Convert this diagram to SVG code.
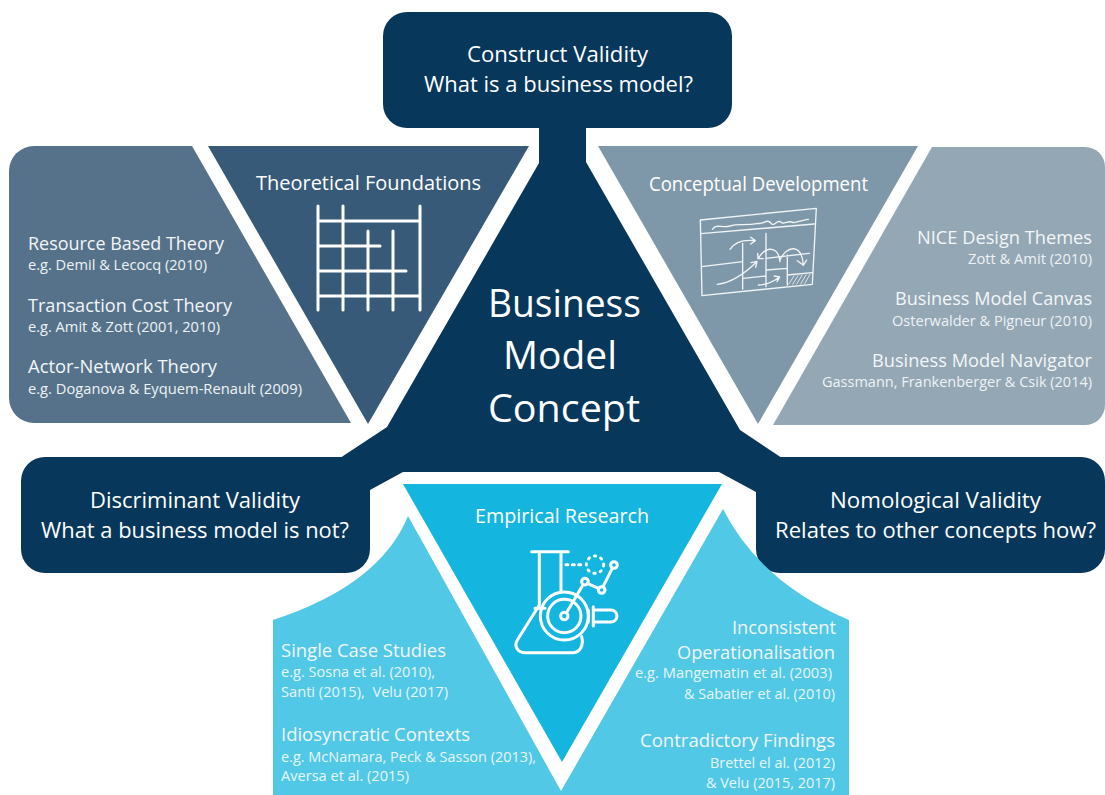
<svg xmlns="http://www.w3.org/2000/svg" width="1105" height="795" viewBox="0 0 1105 795">
<style>
text{font-family:"Open Sans","Noto Sans","Liberation Sans",sans-serif;fill:#fff}
.h{font-size:22.6px}
.t{font-size:19.8px}
.m{font-size:18.6px;fill:#f3f6f8}
.s{font-size:14.4px;fill:#eef2f5}
.l{font-size:14.8px;fill:#e8f6fb}
.c{font-size:38px}
.dk{fill:#07375a}
.ic{fill:none;stroke:#fff;stroke-linecap:round;stroke-linejoin:round}
.sk{fill:none;stroke:#f2f5f7;stroke-width:4;stroke-linecap:round;stroke-linejoin:round}
</style>
<rect width="1105" height="795" fill="#fff"/>
<g id="connectors"/>
<g id="concept">
<polygon class="dk" points="539,120 539,163 387,427 337,460 370,490 403,472 719,472 756,492 785,460 740,430 586,162 586,120"/>
<text class="c" x="488" y="317" textLength="153" lengthAdjust="spacingAndGlyphs">Business</text>
<text class="c" x="503" y="369" textLength="114" lengthAdjust="spacingAndGlyphs">Model</text>
<text class="c" x="488" y="422" textLength="152" lengthAdjust="spacingAndGlyphs">Concept</text>
</g>
<g id="construct-validity">
<rect class="dk" x="383" y="12" width="349" height="116" rx="24"/>
<text class="h" x="467" y="62" textLength="181" lengthAdjust="spacingAndGlyphs">Construct Validity</text>
<text class="h" x="424" y="92" textLength="269" lengthAdjust="spacingAndGlyphs">What is a business model?</text>
</g>
<g id="discriminant-validity">
<rect class="dk" x="21" y="457" width="349" height="116" rx="24"/>
<text class="h" x="90" y="508" textLength="210" lengthAdjust="spacingAndGlyphs">Discriminant Validity</text>
<text class="h" x="41" y="538" textLength="308" lengthAdjust="spacingAndGlyphs">What a business model is not?</text>
</g>
<g id="nomological-validity">
<rect class="dk" x="756" y="457" width="349" height="116" rx="24"/>
<text class="h" x="830" y="508" textLength="211" lengthAdjust="spacingAndGlyphs">Nomological Validity</text>
<text class="h" x="775" y="538" textLength="321" lengthAdjust="spacingAndGlyphs">Relates to other concepts how?</text>
</g>
<g id="theories-panel">
<path d="M34,146H192L351,423H34A25,25 0 0 1 9,398V171A25,25 0 0 1 34,146Z" fill="#56728a"/>
<text class="m" x="28" y="250" textLength="196" lengthAdjust="spacingAndGlyphs">Resource Based Theory</text>
<text class="s" x="28" y="270" textLength="179" lengthAdjust="spacingAndGlyphs">e.g. Demil &amp; Lecocq (2010)</text>
<text class="m" x="28" y="312" textLength="204" lengthAdjust="spacingAndGlyphs">Transaction Cost Theory</text>
<text class="s" x="28" y="332" textLength="192" lengthAdjust="spacingAndGlyphs">e.g. Amit &amp; Zott (2001, 2010)</text>
<text class="m" x="28" y="373" textLength="189" lengthAdjust="spacingAndGlyphs">Actor-Network Theory</text>
<text class="s" x="28" y="394" textLength="274" lengthAdjust="spacingAndGlyphs">e.g. Doganova &amp; Eyquem-Renault (2009)</text>
</g>
<g id="theoretical-foundations">
<polygon points="208,146 529,146 368,424" fill="#365a78"/>
<text class="t" x="256" y="190" textLength="225" lengthAdjust="spacingAndGlyphs">Theoretical Foundations</text>
<path class="ic" stroke-width="3" d="M318,206V310M343,206V310M368,231V310M393,231V310M420,206V310M318,221H420M318,246H380M318,271H406M318,296H420"/>
</g>
<g id="frameworks-panel">
<path d="M932,147H1085A20,20 0 0 1 1105,167V405A20,20 0 0 1 1085,425H773Z" fill="#93a7b5"/>
<text class="m" x="917" y="244" textLength="175" lengthAdjust="spacingAndGlyphs">NICE Design Themes</text>
<text class="s" x="968" y="264" textLength="124" lengthAdjust="spacingAndGlyphs">Zott &amp; Amit (2010)</text>
<text class="m" x="895" y="305" textLength="197" lengthAdjust="spacingAndGlyphs">Business Model Canvas</text>
<text class="s" x="892" y="326" textLength="200" lengthAdjust="spacingAndGlyphs">Osterwalder &amp; Pigneur (2010)</text>
<text class="m" x="872" y="367" textLength="220" lengthAdjust="spacingAndGlyphs">Business Model Navigator</text>
<text class="s" x="822" y="387" textLength="270" lengthAdjust="spacingAndGlyphs">Gassmann, Frankenberger &amp; Csik (2014)</text>
</g>
<g id="conceptual-development">
<polygon points="598,146 918,146 758,424" fill="#7f98a9"/>
<text class="t" x="649" y="191" textLength="219" lengthAdjust="spacingAndGlyphs">Conceptual Development</text>
<g transform="translate(680 190) scale(.3333)" class="sk">
<path d="M61,90L409,55L397,283L66,317Z"/>
<path d="M63,131L403,102M97,118C110,100 125,115 150,108C175,100 195,108 235,100C250,105 262,82 275,102C285,110 292,85 305,98C315,105 325,88 340,98C350,96 370,90 385,88"/>
<path d="M188,160V297M258,130V290M322,195V285M65,230L188,215M190,265L258,258M258,240L322,235V255M258,205L388,190M322,255L397,248"/>
<path d="M150,178C165,155 190,148 225,152M212,142L226,152L212,162"/>
<path d="M112,283C150,278 190,255 230,215M213,218L231,214L227,232"/>
<path d="M300,215C295,170 260,165 235,205M233,190L234,206L250,206"/>
<path d="M300,210C320,165 365,160 370,225M352,212L370,226L380,210"/>
<path d="M235,285C255,285 280,275 298,262M283,258L299,261L291,275"/>
<path stroke-width="2.5" d="M326,283L342,258M338,283L354,257M350,282L366,256M362,282L378,255M374,281L390,253"/>
</g>
</g>
<g id="issues-panel">
<path d="M273,620Q380,585 408,516L561,791L723,509Q760,582 849,620V795H273Z" fill="#50c8e6"/>
<text class="m" x="281" y="657" textLength="165" lengthAdjust="spacingAndGlyphs">Single Case Studies</text>
<text class="l" x="281" y="677" textLength="154" lengthAdjust="spacingAndGlyphs">e.g. Sosna et al. (2010),</text>
<text class="l" x="281" y="697" textLength="167" lengthAdjust="spacingAndGlyphs" xml:space="preserve">Santi (2015),  Velu (2017)</text>
<text class="m" x="281" y="741" textLength="189" lengthAdjust="spacingAndGlyphs">Idiosyncratic Contexts</text>
<text class="l" x="281" y="762" textLength="255" lengthAdjust="spacingAndGlyphs">e.g. McNamara, Peck &amp; Sasson (2013),</text>
<text class="l" x="281" y="781" textLength="128" lengthAdjust="spacingAndGlyphs">Aversa et al. (2015)</text>
<text class="m" x="732" y="634" textLength="104" lengthAdjust="spacingAndGlyphs">Inconsistent</text>
<text class="m" x="677" y="659" textLength="158" lengthAdjust="spacingAndGlyphs">Operationalisation</text>
<text class="l" x="635" y="678" textLength="197" lengthAdjust="spacingAndGlyphs">e.g. Mangematin et al. (2003)</text>
<text class="l" x="684" y="699" textLength="151" lengthAdjust="spacingAndGlyphs">&amp; Sabatier et al. (2010)</text>
<text class="m" x="640" y="747" textLength="195" lengthAdjust="spacingAndGlyphs">Contradictory Findings</text>
<text class="l" x="710" y="768" textLength="125" lengthAdjust="spacingAndGlyphs">Brettel el al. (2012)</text>
<text class="l" x="706" y="788" textLength="129" lengthAdjust="spacingAndGlyphs">&amp; Velu (2015, 2017)</text>
</g>
<g id="empirical-research">
<polygon points="403,484 722,484 562,762" fill="#14b6df"/>
<text class="t" x="475" y="523" textLength="174" lengthAdjust="spacingAndGlyphs">Empirical Research</text>
<g transform="translate(480 530) scale(.3333)">
<g class="ic" stroke-width="9">
<path d="M155,65H265M178,65V225L112,330C100,350 115,368 135,368H280C300,368 312,345 305,320M243,65V185M165,235H195"/>
<circle cx="253" cy="258" r="72"/><circle cx="253" cy="258" r="50"/><circle cx="253" cy="258" r="11"/>
<path d="M340,230V288M325,240V276M340,240H393A18,18 0 0 1 393,276H340"/>
<path d="M259,249L309,164M322,160L357,176M369,170L397,115"/>
<circle cx="315" cy="155" r="10"/><circle cx="365" cy="180" r="10"/><circle cx="402" cy="105" r="10"/>
<path d="M258,104H312" stroke-dasharray="6 13"/>
<circle cx="345" cy="104" r="26" stroke-dasharray="4 16"/>
</g>
</g>
</g>
</svg>
